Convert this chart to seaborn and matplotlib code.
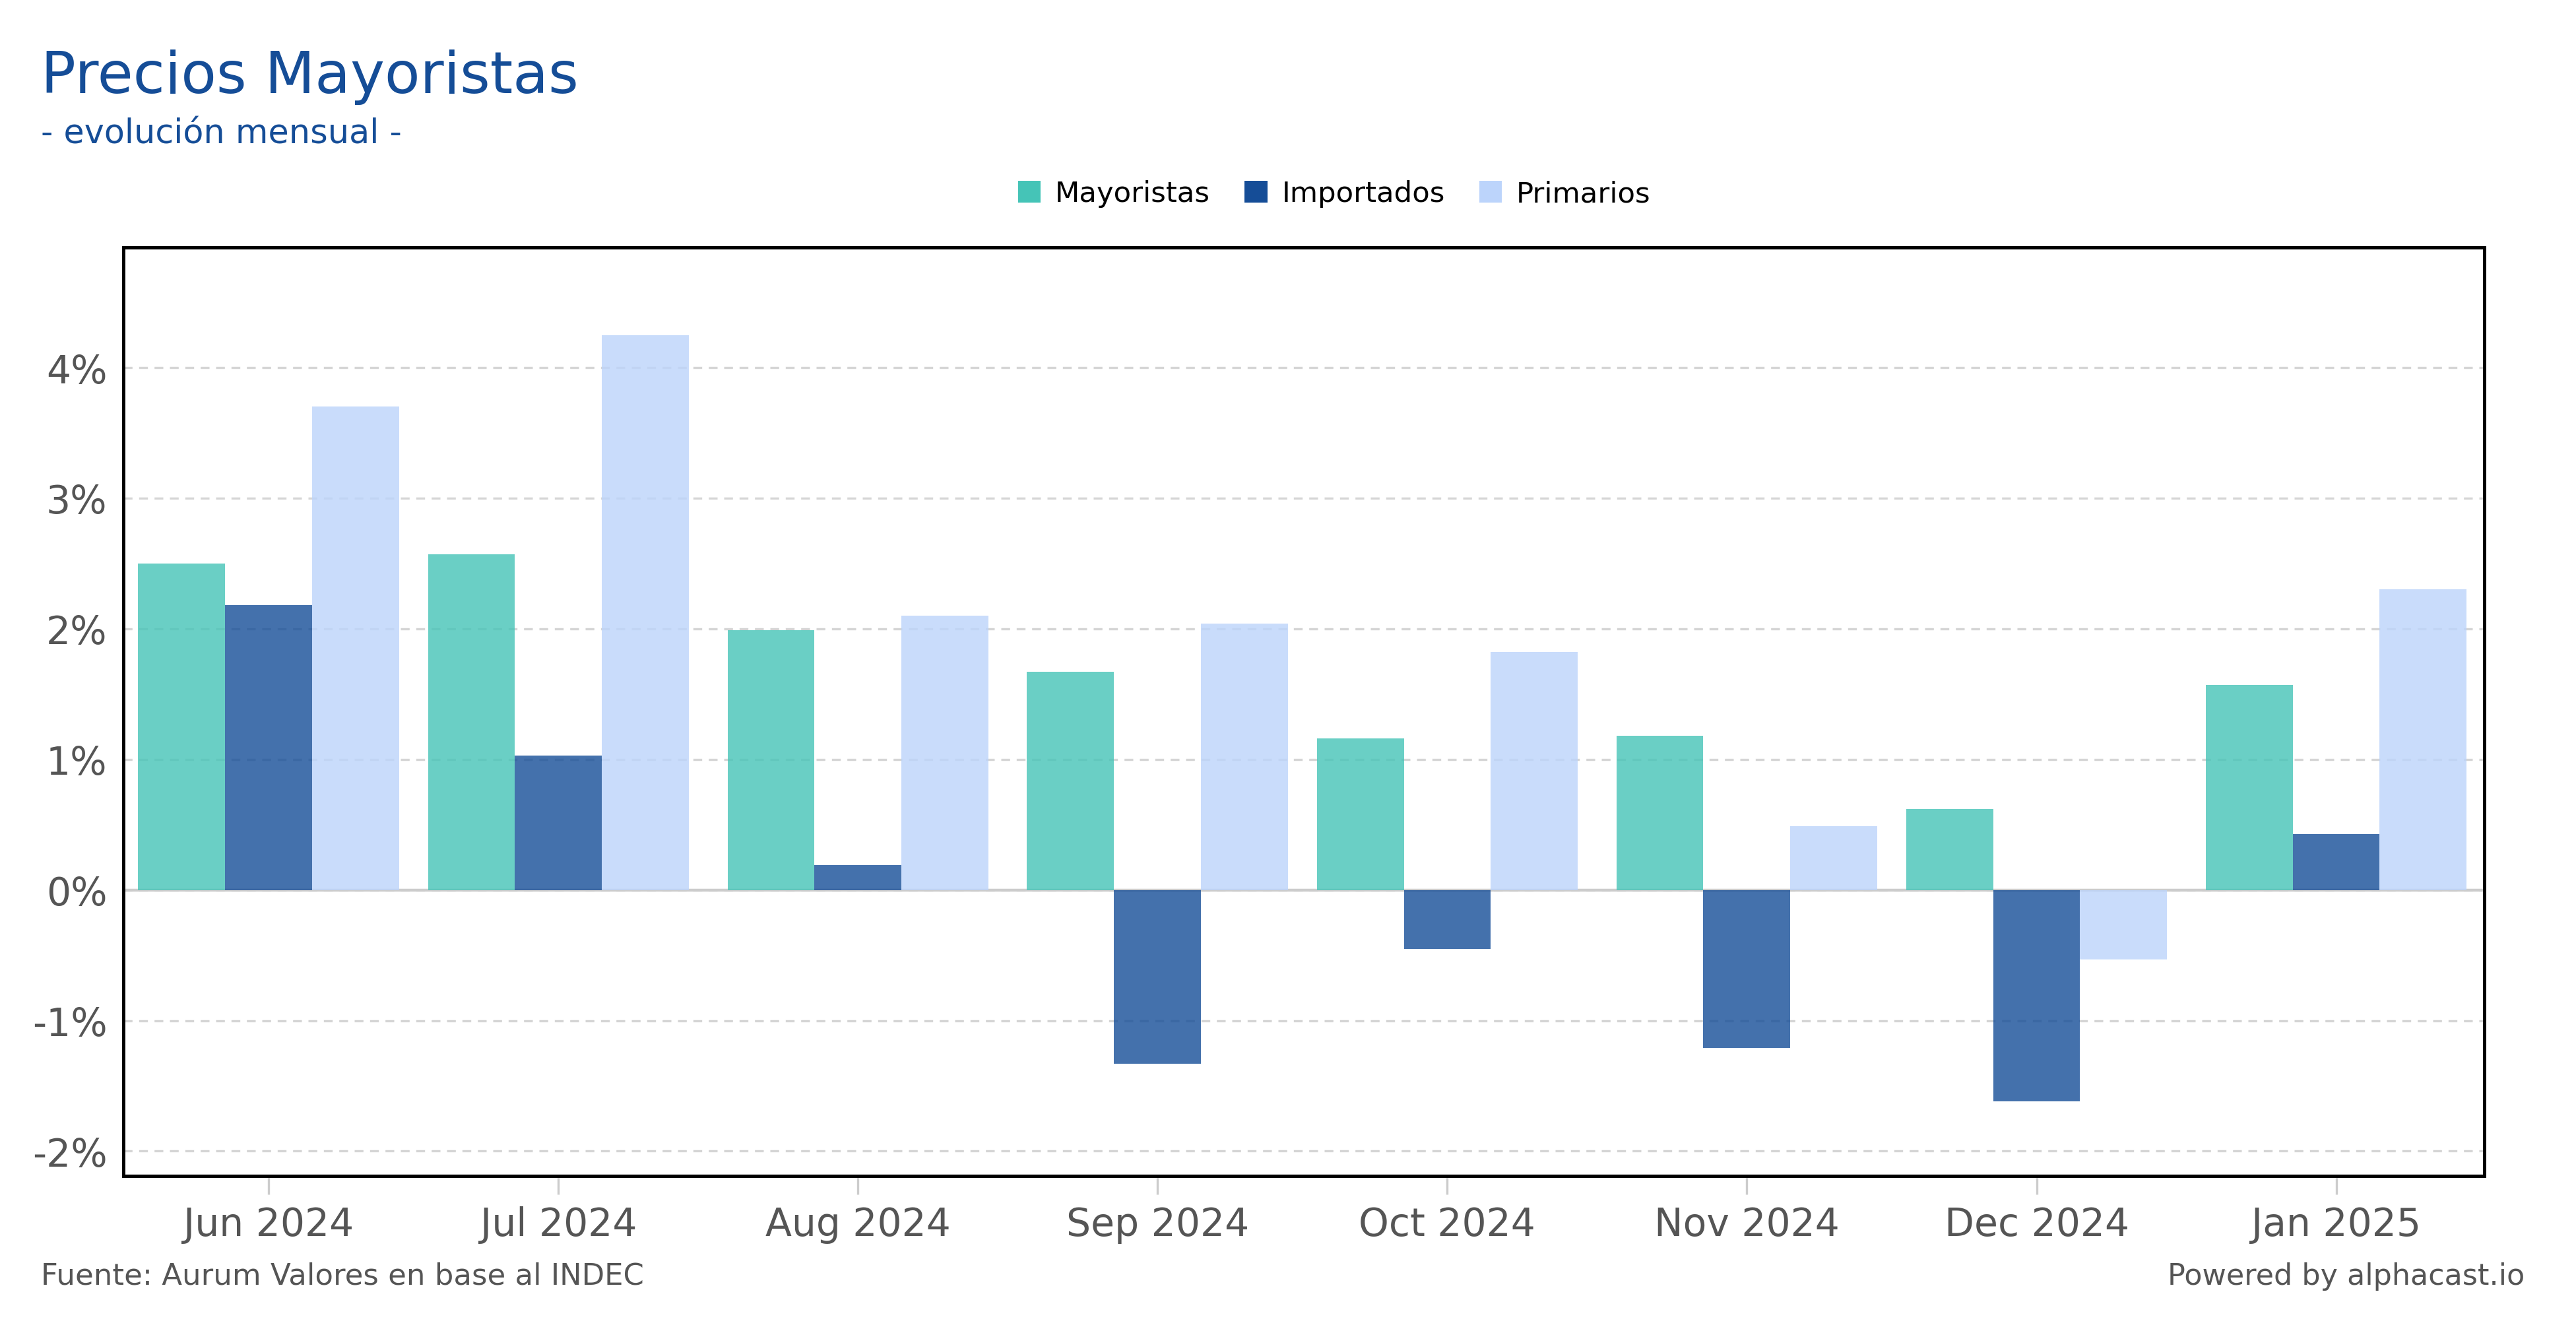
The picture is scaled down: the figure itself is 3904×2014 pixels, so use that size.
import datetime as dt
import pandas as pd
import numpy as np
import seaborn as sns
import matplotlib.pyplot as plt
import matplotlib.dates as mdates
from matplotlib.patches import Patch

## Data
meses = ["2024-06-01", "2024-07-01", "2024-08-01", "2024-09-01",
         "2024-10-01", "2024-11-01", "2024-12-01", "2025-01-01"]
etiquetas = ["Jun 2024", "Jul 2024", "Aug 2024", "Sep 2024",
             "Oct 2024", "Nov 2024", "Dec 2024", "Jan 2025"]
mayoristas = [2.50, 2.57, 1.99, 1.67, 1.16, 1.18, 0.62, 1.57]
importados = [2.18, 1.03, 0.19, -1.33, -0.45, -1.21, -1.62, 0.43]
primarios = [3.70, 4.25, 2.10, 2.04, 1.82, 0.49, -0.53, 2.30]

series = ["Mayoristas", "Importados", "Primarios"]
colores = {"Mayoristas": "#45c4b7", "Importados": "#154d97", "Primarios": "#bcd4fb"}

fechas = mdates.date2num(pd.to_datetime(meses).to_pydatetime())
df = pd.DataFrame({
    "fecha": np.tile(fechas, 3),
    "serie": np.repeat(series, len(meses)),
    "valor": mayoristas + importados + primarios,
})

sns.set_style("white")
plt.rcParams["font.family"] = ["DejaVu Sans"]

fig, ax = plt.subplots(figsize=(19.52, 10.075), dpi=200)
fig.subplots_adjust(left=0.048, right=0.9644, top=0.8134, bottom=0.1151)

ax.yaxis.grid(True, linestyle=(0, (4, 3)), color="#d5d5d5", linewidth=1.2)
ax.set_axisbelow(True)

sns.barplot(data=df, x="fecha", y="valor", hue="serie", hue_order=series,
            palette=colores, saturation=1, native_scale=True, width=0.9, gap=0,
            errorbar=None, alpha=0.8, linewidth=0, legend=False, ax=ax, zorder=2)

ax.axhline(0, color="#cccccc", linewidth=1.6, zorder=1.5)

ax.set_xlim(mdates.date2num(dt.datetime(2024, 5, 17)),
            mdates.date2num(dt.datetime(2025, 1, 16, 8)))
ax.set_ylim(-2.19, 4.92)
ax.set_xticks(fechas)
ax.set_xticklabels(etiquetas)
ax.set_yticks([-2, -1, 0, 1, 2, 3, 4])
ax.set_yticklabels([f"{v}%" for v in [-2, -1, 0, 1, 2, 3, 4]])
ax.set_xlabel("")
ax.set_ylabel("")

ax.tick_params(axis="x", length=10, width=1.2, color="#cccccc", pad=6,
               labelsize=21, labelcolor="#555555", bottom=True)
ax.tick_params(axis="y", length=0, pad=9, labelsize=21, labelcolor="#555555")

for s in ax.spines.values():
    s.set_color("black")
    s.set_linewidth(1.8)

# Titles
fig.text(0.016, 0.930, "Precios Mayoristas", fontsize=31.6, color="#154d97",
         ha="left", va="baseline")
fig.text(0.016, 0.899, "- evolución mensual -", fontsize=18.3, color="#154d97",
         ha="left", va="center")

handles = [Patch(facecolor=colores[s], edgecolor="none", label=s) for s in series]
fig.legend(handles=handles, loc="center", bbox_to_anchor=(0.518, 0.854), ncol=3,
           frameon=False, fontsize=15.6, handlelength=0.8, handleheight=0.8,
           handletextpad=0.5, columnspacing=1.2, labelcolor="black")

fig.text(0.016, 0.040, "Fuente: Aurum Valores en base al INDEC", fontsize=16.2,
         color="#555555", ha="left", va="center")
fig.text(0.980, 0.040, "Powered by alphacast.io", fontsize=16,
         color="#555555", ha="right", va="center")

fig.savefig("out.png", dpi=200)
